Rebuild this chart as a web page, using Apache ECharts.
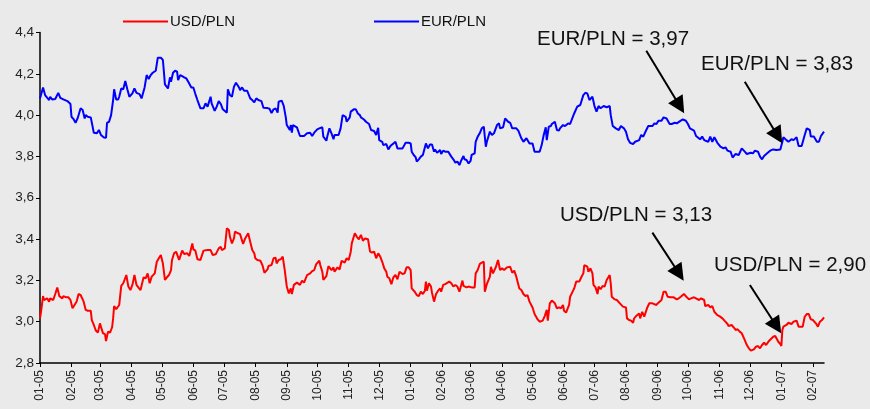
<!DOCTYPE html>
<html>
<head>
<meta charset="utf-8">
<title>USD/PLN, EUR/PLN</title>
<script src="https://cdn.jsdelivr.net/npm/echarts@6/dist/echarts.min.js"></script>
<style>
  html, body { margin: 0; padding: 0; background: #eaeaea; }
  #chart { width: 870px; height: 409px; }
</style>
</head>
<body>
<div id="chart"></div>
<script>
// dni liczone od 2005-01-01
const eurDays = [
  0, 1, 3, 5, 9, 10, 12, 15, 18, 20, 23, 27, 30, 31, 33, 35, 37, 40, 42, 44, 45, 47, 50, 53, 56, 58, 60, 63, 65, 66,
  68, 70, 72, 73, 75, 77, 78, 80, 82, 84, 86, 88, 91, 93, 95, 98, 100, 103, 105, 107, 109, 111, 114, 116, 119, 121, 122, 123, 126, 128,
  129, 131, 133, 135, 136, 138, 140, 142, 144, 146, 149, 151, 153, 155, 158, 161, 163, 165, 168, 169, 172, 174, 176, 178, 180, 184, 185, 187, 189, 191,
  193, 196, 197, 199, 201, 204, 207, 209, 211, 213, 215, 218, 220, 224, 226, 228, 230, 232, 234, 235, 238, 240, 242, 243, 246, 247, 248, 249, 253, 254,
  256, 260, 263, 266, 268, 270, 273, 275, 278, 279, 282, 283, 285, 287, 289, 290, 294, 296, 298, 301, 302, 305, 306, 309, 311, 313, 315, 316, 319, 321,
  324, 326, 329, 331, 333, 334, 337, 338, 341, 343, 345, 348, 350, 352, 354, 357, 360, 363, 365, 366, 368, 370, 371, 373, 375, 377, 378, 380, 382, 384,
  386, 388, 389, 391, 394, 395, 397, 399, 402, 405, 407, 409, 411, 413, 415, 417, 418, 420, 422, 424, 425, 428, 429, 431, 433, 435, 437, 439, 440, 443,
  445, 447, 450, 452, 453, 456, 458, 461, 463, 465, 466, 469, 471, 474, 476, 479, 480, 482, 485, 487, 490, 492, 494, 496, 498, 499, 501, 503, 504, 507,
  509, 511, 512, 515, 517, 520, 522, 526, 529, 532, 535, 537, 539, 541, 544, 546, 548, 550, 552, 555, 558, 561, 562, 564, 567, 570, 572, 575, 577, 579,
  581, 584, 586, 590, 592, 594, 597, 599, 603, 605, 607, 609, 612, 614, 617, 620, 622, 625, 627, 631, 633, 636, 638, 640, 644, 646, 650, 652, 654, 658,
  660, 662, 664, 667, 670, 673, 675, 677, 680, 682, 685, 688, 691, 694, 696, 700, 702, 704, 707, 709, 711, 713, 716, 719, 722, 725, 729, 731, 732, 735,
  737, 740, 742, 745, 747, 750, 753, 755, 758, 759, 762, 765, 767, 769, 772
]
const eurValues = [
  4.081, 4.078, 4.134, 4.097, 4.073, 4.089, 4.076, 4.078, 4.108, 4.084, 4.076, 4.068, 4.054, 3.992, 3.981, 3.963, 3.984, 4.033, 4.025, 3.984, 4.000, 3.992, 3.989, 3.915, 3.912, 3.928, 3.904, 3.892, 3.891, 3.963,
  3.968, 4.000, 4.073, 4.125, 4.076, 4.076, 4.089, 4.129, 4.125, 4.165, 4.125, 4.089, 4.105, 4.129, 4.108, 4.102, 4.081, 4.134, 4.194, 4.175, 4.194, 4.205, 4.215, 4.278, 4.278, 4.267, 4.210, 4.149, 4.129, 4.183,
  4.162, 4.205, 4.215, 4.210, 4.170, 4.194, 4.189, 4.183, 4.178, 4.162, 4.134, 4.134, 4.102, 4.073, 4.033, 4.033, 4.057, 4.041, 4.089, 4.057, 4.021, 4.041, 4.068, 4.054, 4.028, 4.012, 4.125, 4.097, 4.089, 4.138,
  4.157, 4.134, 4.121, 4.134, 4.118, 4.118, 4.081, 4.073, 4.062, 4.081, 4.073, 4.068, 4.036, 4.034, 4.031, 4.010, 4.028, 4.033, 4.012, 4.065, 4.070, 4.045, 3.990, 3.952, 3.928, 3.952, 3.915, 3.952, 3.941, 3.936,
  3.899, 3.899, 3.912, 3.915, 3.899, 3.915, 3.931, 3.936, 3.941, 3.896, 3.876, 3.899, 3.936, 3.912, 3.883, 3.904, 3.904, 3.936, 4.000, 3.992, 3.968, 3.989, 4.017, 4.028, 4.028, 4.008, 4.000, 3.989, 3.979, 3.968,
  3.957, 3.928, 3.923, 3.904, 3.939, 3.879, 3.871, 3.855, 3.860, 3.834, 3.850, 3.863, 3.871, 3.839, 3.839, 3.839, 3.866, 3.866, 3.863, 3.823, 3.807, 3.795, 3.775, 3.786, 3.799, 3.807, 3.812, 3.863, 3.839, 3.858,
  3.858, 3.823, 3.834, 3.818, 3.831, 3.812, 3.828, 3.823, 3.823, 3.799, 3.786, 3.770, 3.775, 3.758, 3.783, 3.802, 3.786, 3.783, 3.766, 3.779, 3.807, 3.815, 3.871, 3.896, 3.912, 3.936, 3.944, 3.847, 3.871, 3.920,
  3.904, 3.912, 3.952, 3.960, 3.936, 3.941, 3.984, 3.968, 3.963, 3.936, 3.928, 3.936, 3.925, 3.888, 3.871, 3.888, 3.879, 3.863, 3.863, 3.823, 3.823, 3.823, 3.855, 3.904, 3.941, 3.879, 3.944, 3.947, 3.957, 3.968,
  3.928, 3.925, 3.936, 3.952, 3.947, 3.960, 3.957, 4.008, 4.041, 4.049, 4.097, 4.108, 4.105, 4.073, 4.089, 4.044, 4.017, 4.044, 4.033, 4.044, 4.038, 4.044, 4.000, 3.947, 3.936, 3.928, 3.947, 3.936, 3.920, 3.883,
  3.866, 3.860, 3.871, 3.879, 3.904, 3.896, 3.928, 3.947, 3.947, 3.960, 3.957, 3.973, 3.973, 3.989, 3.984, 3.957, 3.957, 3.963, 3.960, 3.973, 3.979, 3.973, 3.957, 3.936, 3.925, 3.899, 3.883, 3.896, 3.879, 3.871,
  3.896, 3.871, 3.893, 3.866, 3.847, 3.839, 3.844, 3.828, 3.823, 3.795, 3.812, 3.807, 3.839, 3.823, 3.812, 3.818, 3.815, 3.828, 3.823, 3.799, 3.786, 3.802, 3.815, 3.828, 3.834, 3.831, 3.834, 3.871, 3.893, 3.879,
  3.871, 3.883, 3.879, 3.893, 3.850, 3.850, 3.904, 3.936, 3.928, 3.896, 3.896, 3.871, 3.871, 3.899, 3.920
]

const usdDays = [
  0, 1, 3, 4, 7, 9, 10, 13, 15, 17, 19, 22, 23, 26, 28, 30, 32, 34, 36, 38, 40, 43, 45, 47, 50, 51, 53, 55, 57, 59,
  60, 62, 64, 65, 67, 69, 71, 72, 73, 75, 78, 80, 82, 85, 87, 89, 91, 93, 95, 97, 99, 102, 104, 106, 108, 110, 113, 115, 117, 119,
  121, 123, 125, 127, 129, 130, 132, 134, 137, 138, 140, 142, 145, 147, 150, 151, 153, 155, 158, 161, 165, 168, 170, 173, 174, 176, 178, 179, 182, 184,
  186, 187, 189, 191, 192, 195, 197, 198, 200, 202, 205, 207, 209, 211, 212, 214, 217, 219, 221, 224, 225, 228, 230, 232, 233, 235, 237, 239, 241, 243,
  245, 247, 248, 250, 253, 256, 258, 260, 263, 266, 268, 270, 272, 275, 276, 278, 279, 282, 284, 287, 289, 290, 293, 295, 297, 300, 302, 304, 306, 307,
  310, 312, 314, 316, 318, 320, 323, 325, 327, 329, 331, 333, 335, 337, 339, 341, 342, 344, 346, 348, 350, 352, 354, 357, 359, 361, 363, 365, 366, 369,
  371, 373, 375, 377, 379, 380, 381, 383, 385, 386, 388, 390, 392, 394, 395, 397, 399, 403, 405, 407, 409, 411, 413, 416, 417, 420, 422, 425, 428, 429,
  431, 433, 435, 437, 438, 440, 443, 444, 446, 449, 451, 453, 455, 457, 460, 463, 465, 467, 469, 472, 474, 476, 478, 480, 482, 485, 487, 490, 492, 495,
  497, 499, 500, 502, 504, 507, 509, 511, 513, 515, 516, 518, 521, 522, 526, 528, 531, 533, 535, 536, 539, 540, 542, 544, 545, 547, 549, 550, 552, 554,
  556, 558, 561, 562, 563, 566, 568, 571, 572, 574, 577, 578, 580, 582, 584, 585, 587, 590, 591, 593, 595, 598, 600, 603, 604, 607, 609, 612, 614, 616,
  618, 621, 624, 627, 629, 631, 634, 637, 639, 641, 644, 646, 649, 651, 654, 655, 658, 660, 662, 664, 667, 669, 672, 674, 677, 678, 681, 683, 685, 687,
  689, 691, 694, 696, 698, 700, 703, 705, 707, 709, 711, 713, 715, 718, 719, 722, 724, 727, 729, 730, 731, 732, 735, 737, 740, 742, 745, 747, 751, 753,
  755, 757, 759, 761, 764, 766, 768, 770, 772
]
const usdValues = [
  3.016, 3.048, 3.124, 3.105, 3.113, 3.097, 3.113, 3.105, 3.134, 3.165, 3.124, 3.113, 3.124, 3.118, 3.118, 3.105, 3.065, 3.081, 3.097, 3.134, 3.129, 3.097, 3.057, 3.053, 3.053, 3.008, 2.984, 2.957, 2.947, 2.992,
  2.992, 2.944, 2.940, 2.906, 2.952, 2.947, 2.973, 3.016, 3.076, 3.060, 3.081, 3.173, 3.186, 3.226, 3.170, 3.153, 3.178, 3.226, 3.178, 3.165, 3.153, 3.215, 3.210, 3.234, 3.186, 3.218, 3.234, 3.290, 3.307, 3.323,
  3.282, 3.202, 3.215, 3.226, 3.250, 3.299, 3.331, 3.339, 3.299, 3.295, 3.344, 3.328, 3.331, 3.318, 3.379, 3.350, 3.344, 3.302, 3.299, 3.344, 3.347, 3.347, 3.323, 3.326, 3.318, 3.355, 3.363, 3.347, 3.355, 3.452,
  3.444, 3.411, 3.379, 3.403, 3.436, 3.428, 3.424, 3.431, 3.376, 3.403, 3.428, 3.387, 3.347, 3.331, 3.307, 3.299, 3.295, 3.274, 3.237, 3.253, 3.270, 3.274, 3.307, 3.310, 3.282, 3.299, 3.302, 3.315, 3.250, 3.170,
  3.137, 3.161, 3.134, 3.178, 3.189, 3.178, 3.199, 3.189, 3.226, 3.234, 3.245, 3.250, 3.279, 3.295, 3.274, 3.242, 3.202, 3.221, 3.269, 3.250, 3.263, 3.242, 3.263, 3.253, 3.295, 3.286, 3.307, 3.299, 3.339, 3.379,
  3.428, 3.411, 3.399, 3.420, 3.392, 3.403, 3.399, 3.339, 3.334, 3.339, 3.307, 3.331, 3.315, 3.290, 3.258, 3.242, 3.218, 3.210, 3.182, 3.215, 3.226, 3.205, 3.242, 3.231, 3.234, 3.263, 3.263, 3.250, 3.161, 3.145,
  3.129, 3.124, 3.145, 3.134, 3.150, 3.194, 3.150, 3.186, 3.170, 3.140, 3.097, 3.134, 3.150, 3.161, 3.145, 3.178, 3.182, 3.194, 3.186, 3.170, 3.178, 3.170, 3.145, 3.199, 3.173, 3.166, 3.170, 3.166, 3.166, 3.234,
  3.250, 3.279, 3.286, 3.290, 3.145, 3.182, 3.218, 3.266, 3.234, 3.266, 3.299, 3.250, 3.258, 3.250, 3.263, 3.266, 3.237, 3.247, 3.218, 3.161, 3.153, 3.134, 3.124, 3.129, 3.097, 3.069, 3.037, 3.011, 3.000, 3.005,
  3.027, 3.057, 3.005, 3.089, 3.102, 3.089, 3.065, 3.069, 3.065, 3.081, 3.053, 3.044, 3.081, 3.121, 3.161, 3.194, 3.194, 3.215, 3.234, 3.274, 3.266, 3.242, 3.258, 3.234, 3.178, 3.166, 3.134, 3.170, 3.157, 3.173,
  3.170, 3.202, 3.226, 3.186, 3.121, 3.108, 3.105, 3.089, 3.097, 3.073, 3.069, 3.016, 3.008, 3.005, 2.995, 3.016, 3.027, 3.040, 3.016, 3.048, 3.024, 3.069, 3.089, 3.089, 3.092, 3.081, 3.092, 3.105, 3.145, 3.145,
  3.121, 3.118, 3.118, 3.108, 3.113, 3.121, 3.134, 3.118, 3.108, 3.113, 3.118, 3.113, 3.105, 3.113, 3.105, 3.076, 3.081, 3.069, 3.076, 3.048, 3.032, 3.027, 3.016, 3.005, 2.989, 2.979, 2.984, 2.973, 2.960, 2.963,
  2.952, 2.944, 2.911, 2.887, 2.871, 2.860, 2.866, 2.879, 2.882, 2.871, 2.887, 2.898, 2.887, 2.908, 2.915, 2.927, 2.931, 2.903, 2.892, 2.882, 2.960, 2.976, 2.984, 2.995, 2.989, 3.000, 3.005, 2.976, 2.976, 3.024,
  3.037, 3.037, 3.011, 3.008, 2.992, 2.976, 3.000, 3.008, 3.021
]

const yTicks = { min: 2.8, max: 4.4, step: 0.2 }

const DAY = 86400000
const START = Date.UTC(2005, 0, 1)
const toTime = (d) => START + d * DAY

const pad = (n) => (n < 10 ? '0' + n : '' + n)
const fontFamily = '"Liberation Sans", Arial, sans-serif'

const chart = echarts.init(document.getElementById('chart'))

// strzalki z opisami
const arrowLine = (from, to) => [
  { coord: [toTime(from[0]), from[1]], symbol: 'none' },
  { coord: [toTime(to[0]), to[1]], symbol: 'triangle' },
]

const noteText = (text, x, y) => ({
  type: 'text',
  x: x,
  y: y,
  silent: true,
  style: {
    text: text,
    fill: '#111',
    fontSize: 20.5,
    fontFamily: fontFamily,
    align: 'left',
    verticalAlign: 'middle',
  },
})

const option = {
  backgroundColor: '#eaeaea',
  animation: false,
  useUTC: true,
  grid: {
    left: 40,
    right: 46,
    top: 32.5,
    bottom: 46,
    containLabel: false,
  },
  legend: {
    data: ['USD/PLN', 'EUR/PLN'],
    left: 123,
    top: 14,
    padding: 0,
    icon: 'rect',
    itemWidth: 45,
    itemHeight: 2,
    itemGap: 139,
    textStyle: {
      fontSize: 15,
      fontFamily: fontFamily,
      color: '#111',
      padding: [0, 0, 0, -3],
    },
  },
  xAxis: {
    type: 'time',
    min: toTime(0),
    max: toTime(772),
    splitNumber: 26,
    minInterval: 28 * DAY,
    maxInterval: 31 * DAY,
    axisLine: { lineStyle: { color: '#000', width: 1.5 } },
    axisTick: { show: true, length: 4, lineStyle: { color: '#000', width: 1 } },
    axisLabel: {
      rotate: 90,
      margin: 7,
      fontSize: 12,
      fontFamily: fontFamily,
      color: '#222',
      hideOverlap: false,
      formatter: (v) => {
        const d = new Date(v)
        return pad(d.getUTCMonth() + 1) + '-' + String(d.getUTCFullYear()).slice(2)
      },
    },
    splitLine: { show: false },
  },
  yAxis: {
    type: 'value',
    min: yTicks.min,
    max: yTicks.max,
    interval: yTicks.step,
    axisLine: { show: true, lineStyle: { color: '#000', width: 1.5 } },
    axisTick: { show: true, length: 4, lineStyle: { color: '#000', width: 1 } },
    axisLabel: {
      margin: 6,
      fontSize: 13.5,
      fontFamily: fontFamily,
      color: '#222',
      formatter: (v) => v.toFixed(1).replace('.', ','),
    },
    splitLine: { show: false },
  },
  series: [
    {
      name: 'USD/PLN',
      type: 'line',
      symbol: 'none',
      color: '#ff0000',
      lineStyle: { width: 2, color: '#ff0000' },
      data: usdDays.map((d, i) => [toTime(d), usdValues[i]]),
      markLine: {
        silent: true,
        symbolSize: 17,
        label: { show: false },
        lineStyle: { color: '#000', width: 2, type: 'solid' },
        data: [
          arrowLine([603, 3.431], [629.3, 3.233]),
          arrowLine([699, 3.178], [725.3, 2.978]),
        ],
      },
    },
    {
      name: 'EUR/PLN',
      type: 'line',
      symbol: 'none',
      color: '#0000ff',
      lineStyle: { width: 2, color: '#0000ff' },
      data: eurDays.map((d, i) => [toTime(d), eurValues[i]]),
      markLine: {
        silent: true,
        symbolSize: 17,
        label: { show: false },
        lineStyle: { color: '#000', width: 2, type: 'solid' },
        data: [
          arrowLine([597, 4.312], [630, 4.044]),
          arrowLine([694, 4.162], [726.5, 3.899]),
        ],
      },
    },
  ],
  graphic: [
    noteText('EUR/PLN = 3,97', 537, 39),
    noteText('EUR/PLN = 3,83', 701, 64),
    noteText('USD/PLN = 3,13', 560, 215),
    noteText('USD/PLN = 2,90', 714, 265.5),
  ],
}

option && chart.setOption(option)
</script>
</body>
</html>
